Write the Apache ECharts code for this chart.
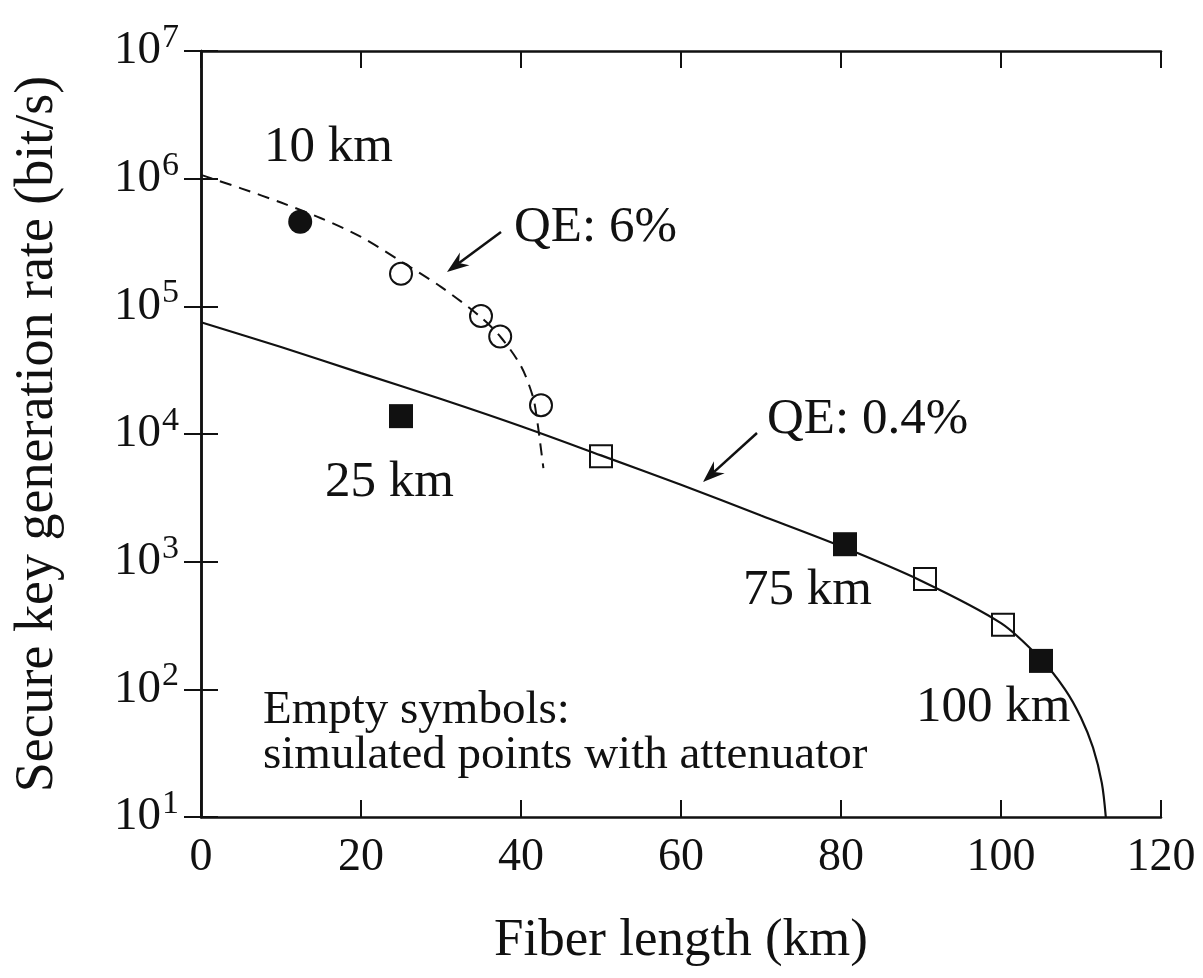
<!DOCTYPE html>
<html>
<head>
<meta charset="utf-8">
<script src="https://cdn.jsdelivr.net/npm/echarts@6/dist/echarts.min.js"></script>
<style>
  html, body { margin: 0; padding: 0; background: #fff; }
  #chart { width: 1203px; height: 978px; }
</style>
</head>
<body>
<div id="chart"></div>
<script>
// curves: [fiber length km, rate bit/s]
var qe6Curve = [[0, 1.07e6], [5, 8.4e5], [10, 6.5e5], [15, 4.9e5], [20, 3.5e5], [25, 2.25e5],
  [30, 1.42e5], [35, 8.2e4], [37.5, 5.7e4], [40, 3.4e4], [41.5, 1.95e4], [42, 1.3e4],
  [42.4, 8.5e3], [42.8, 5.4e3]];
var qe04Curve = [[0, 7.5e4], [10, 4.8e4], [20, 3.0e4], [30, 1.88e4], [40, 1.15e4], [50, 6.8e3],
  [60, 4.0e3], [70, 2.3e3], [80, 1.32e3], [90, 7.1e2], [100, 3.3e2], [105, 1.72e2],
  [108, 1.0e2], [110, 6.0e1], [111.5, 3.5e1], [112.6, 1.85e1], [113.1, 1.0e1]];

// measured points
var filledCircles = [[12.4, 4.6e5]];
var openCircles = [[25, 1.8e5], [35, 8.4e4], [37.4, 5.8e4], [42.5, 1.68e4]];
var filledSquares = [[25, 1.38e4], [80.5, 1.37e3], [105, 1.67e2]];
var openSquares = [[50, 6.7e3], [90.5, 7.3e2], [100.25, 3.2e2]];

var xTicks = { min: 0, max: 120, step: 20 };
var yRange = { min: 10, max: 1e7 };

var ink = '#111';
var serif = '"Liberation Serif", "Times New Roman", serif';

var chart = echarts.init(document.getElementById('chart'));

function arrow(x1, y1, x2, y2) {
  // shaft + notched head, tip at (x2, y2)
  var dx = x2 - x1, dy = y2 - y1;
  var len = Math.sqrt(dx * dx + dy * dy);
  var ux = dx / len, uy = dy / len;
  var nx = -uy, ny = ux;
  var hl = 22, hw = 8, notch = 15;
  var bx = x2 - ux * hl, by = y2 - uy * hl;
  return [
    { type: 'line', shape: { x1: x1, y1: y1, x2: x2 - ux * notch, y2: y2 - uy * notch },
      style: { stroke: ink, lineWidth: 2.5 } },
    { type: 'polygon', shape: { points: [
        [x2, y2], [bx + nx * hw, by + ny * hw], [x2 - ux * notch, y2 - uy * notch], [bx - nx * hw, by - ny * hw]
      ] }, style: { fill: ink } }
  ];
}

function label(text, x, y, size) {
  return { type: 'text', x: x, y: y, style: {
    text: text, fill: ink, font: size + 'px ' + serif, textAlign: 'left', textVerticalAlign: 'middle'
  } };
}

var graphics = [
  label('10 km', 264, 148, 51),
  label('25 km', 325, 483, 51),
  label('75 km', 743, 591, 51),
  label('100 km', 916, 708, 51),
  label('QE: 6%', 514, 228, 51),
  label('QE: 0.4%', 767, 420, 51),
  label('Empty symbols:', 263, 711, 47),
  label('simulated points with attenuator', 263, 756, 47)
].concat(arrow(501, 232, 447, 272), arrow(757, 433, 703, 482));

var axisLine = { show: true, lineStyle: { color: ink, width: 2.5 } };
var tick = { show: true, inside: true, length: 17, lineStyle: { color: ink, width: 2 } };

var option = {
  backgroundColor: '#fff',
  animation: false,
  grid: { left: 201, right: 42, top: 51, bottom: 161 },
  xAxis: [
    {
      type: 'value', min: xTicks.min, max: xTicks.max, interval: xTicks.step,
      name: 'Fiber length (km)', nameLocation: 'middle', nameGap: 98,
      nameTextStyle: { fontFamily: serif, fontSize: 53, color: ink },
      axisLine: axisLine, axisTick: tick, splitLine: { show: false },
      axisLabel: { fontFamily: serif, fontSize: 46, color: ink, margin: 18 }
    },
    {
      type: 'value', position: 'top', min: xTicks.min, max: xTicks.max, interval: xTicks.step,
      axisLine: axisLine, axisTick: tick, splitLine: { show: false }, axisLabel: { show: false }
    }
  ],
  yAxis: [
    {
      type: 'log', logBase: 10, min: yRange.min, max: yRange.max,
      name: 'Secure key generation rate (bit/s)', nameLocation: 'middle', nameGap: 136,
      nameTextStyle: { fontFamily: serif, fontSize: 54, color: ink },
      axisLine: axisLine, axisTick: tick, splitLine: { show: false }, minorTick: { show: false },
      axisLabel: {
        margin: 22, color: ink,
        formatter: function (v) {
          return '{b|10}{s|' + Math.round(Math.log10(v)) + '}';
        },
        rich: {
          b: { fontFamily: serif, fontSize: 47, color: ink },
          s: { fontFamily: serif, fontSize: 34, color: ink, padding: [0, 0, 26, 1] }
        }
      }
    },
    {
      type: 'log', logBase: 10, position: 'right', min: yRange.min, max: yRange.max,
      axisLine: axisLine, axisTick: tick, splitLine: { show: false }, axisLabel: { show: false }
    }
  ],
  series: [
    {
      name: 'QE 6%', type: 'line', data: qe6Curve, smooth: 0.3, showSymbol: false, z: 2,
      lineStyle: { color: ink, width: 2, type: [12, 8] }
    },
    {
      name: 'QE 0.4%', type: 'line', data: qe04Curve, smooth: 0.3,
      showSymbol: false, z: 2,
      lineStyle: { color: ink, width: 2.2 }
    },
    {
      type: 'scatter', data: filledCircles, symbol: 'circle', symbolSize: 24, z: 3,
      itemStyle: { color: ink, opacity: 1 }
    },
    {
      type: 'scatter', data: openCircles, symbol: 'circle', symbolSize: 22, z: 3,
      itemStyle: { color: 'rgba(0,0,0,0)', borderColor: ink, borderWidth: 2, opacity: 1 }
    },
    {
      type: 'scatter', data: filledSquares, symbol: 'rect', symbolSize: 24, z: 3,
      itemStyle: { color: ink, opacity: 1 }
    },
    {
      type: 'scatter', data: openSquares, symbol: 'rect', symbolSize: 22, z: 3,
      itemStyle: { color: 'rgba(0,0,0,0)', borderColor: ink, borderWidth: 2, opacity: 1 }
    }
  ],
  graphic: graphics
};

chart.setOption(option);
</script>
</body>
</html>
